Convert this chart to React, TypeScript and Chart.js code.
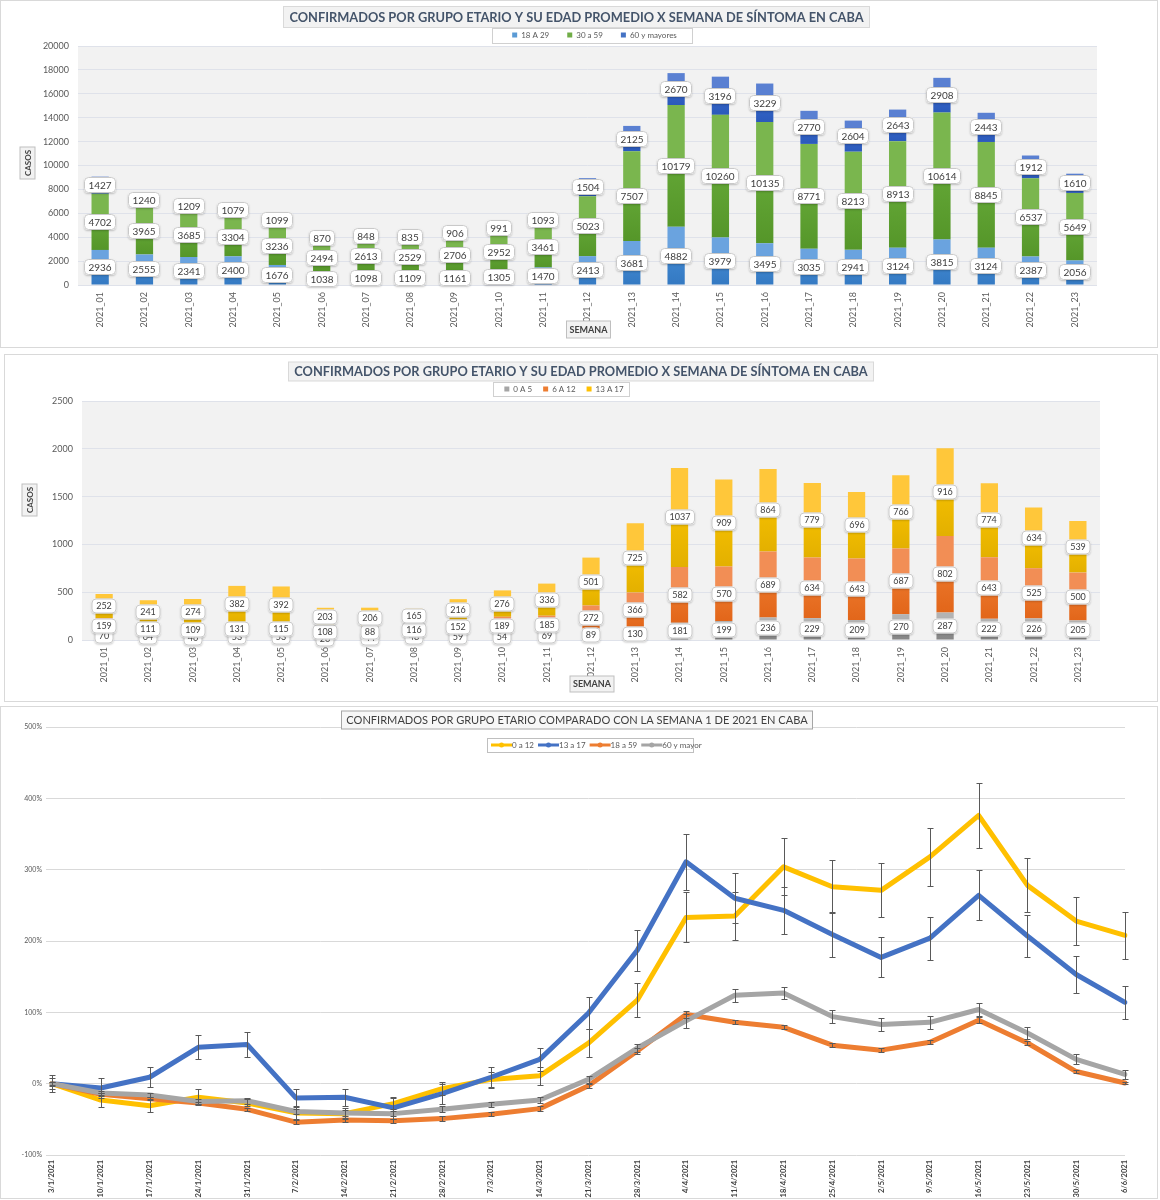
import React, { useEffect, useRef } from "react";
import { Chart, registerables } from "chart.js";

Chart.register(...registerables);

const FONT = "Lato, 'Open Sans', 'DejaVu Sans', sans-serif";

// ---------- DATA ----------
const semanas = [
  "2021_01", "2021_02", "2021_03", "2021_04", "2021_05", "2021_06", "2021_07", "2021_08",
  "2021_09", "2021_10", "2021_11", "2021_12", "2021_13", "2021_14", "2021_15", "2021_16",
  "2021_17", "2021_18", "2021_19", "2021_20", "2021_21", "2021_22", "2021_23",
];

const casos18a29 = [2936, 2555, 2341, 2400, 1676, 1038, 1098, 1109, 1161, 1305, 1470, 2413, 3681, 4882, 3979, 3495, 3035, 2941, 3124, 3815, 3124, 2387, 2056];
const casos30a59 = [4702, 3965, 3685, 3304, 3236, 2494, 2613, 2529, 2706, 2952, 3461, 5023, 7507, 10179, 10260, 10135, 8771, 8213, 8913, 10614, 8845, 6537, 5649];
const casos60mas = [1427, 1240, 1209, 1079, 1099, 870, 848, 835, 906, 991, 1093, 1504, 2125, 2670, 3196, 3229, 2770, 2604, 2643, 2908, 2443, 1912, 1610];

const casos0a5 = [70, 64, 46, 53, 53, 26, 44, 48, 59, 54, 69, 89, 130, 181, 199, 236, 229, 209, 270, 287, 222, 226, 205];
const casos6a12 = [159, 111, 109, 131, 115, 108, 88, 116, 152, 189, 185, 272, 366, 582, 570, 689, 634, 643, 687, 802, 643, 525, 500];
const casos13a17 = [252, 241, 274, 382, 392, 203, 206, 165, 216, 276, 336, 501, 725, 1037, 909, 864, 779, 696, 766, 916, 774, 634, 539];

const fechas = [
  "3/1/2021", "10/1/2021", "17/1/2021", "24/1/2021", "31/1/2021", "7/2/2021", "14/2/2021", "21/2/2021",
  "28/2/2021", "7/3/2021", "14/3/2021", "21/3/2021", "28/3/2021", "4/4/2021", "11/4/2021", "18/4/2021",
  "25/4/2021", "2/5/2021", "9/5/2021", "16/5/2021", "23/5/2021", "30/5/2021", "6/6/2021",
];
const pct0a12 = [0, -23, -31, -19, -27, -41, -42, -28, -7, 6, 11, 57, 117, 233, 235, 304, 276, 271, 318, 376, 278, 228, 208];
const pct13a17 = [0, -6, 9, 51, 55, -20, -19, -34, -14, 9, 34, 99, 187, 311, 260, 243, 209, 177, 204, 264, 207, 153, 114];
const pct18a59 = [0, -15, -21, -27, -36, -54, -51, -52, -49, -43, -35, -3, 46, 97, 86, 79, 54, 47, 58, 89, 57, 17, 1];
const pct60mas = [0, -13, -16, -25, -24, -39, -41, -42, -36, -29, -23, 6, 50, 88, 124, 127, 94, 83, 86, 104, 71, 34, 13];

const err0a12 = [8, 10, 9, 11, 5, 8, 8, 8, 9, 11, 13, 19, 24, 35, 34, 40, 37, 38, 41, 46, 38, 34, 33];
const err13a17 = [12, 14, 14, 17, 18, 12, 12, 15, 14, 15, 16, 22, 29, 39, 35, 33, 31, 28, 30, 35, 30, 26, 23];
const err18a59 = [2, 2, 2, 2, 2, 3, 3, 3, 3, 3, 3, 3, 4, 5, 3, 3, 3, 3, 3, 4, 3, 2, 2];
const err60mas = [3, 3, 3, 4, 4, 4, 4, 4, 4, 4, 4, 5, 6, 10, 9, 9, 9, 9, 9, 9, 9, 7, 6];

const tituloBarras = "CONFIRMADOS POR GRUPO ETARIO Y SU EDAD PROMEDIO X SEMANA DE SÍNTOMA EN CABA";
const tituloLineas = "CONFIRMADOS POR GRUPO ETARIO COMPARADO CON LA SEMANA 1 DE 2021 EN CABA";

// ---------- HELPERS ----------
type Boxed = {
  text: string; x: number; y: number; size: number; weight?: string; color: string;
  fill: string; stroke: string; padX?: number; boxH?: number; rotate?: boolean; fitWidth?: number;
};

function drawBoxed(ctx: CanvasRenderingContext2D, b: Boxed) {
  ctx.save();
  let size = b.size;
  ctx.font = `${b.weight || "normal"} ${size}px ${FONT}`;
  let tw = ctx.measureText(b.text).width;
  if (b.fitWidth) {
    size = (size * b.fitWidth) / tw;
    ctx.font = `${b.weight || "normal"} ${size}px ${FONT}`;
    tw = ctx.measureText(b.text).width;
  }
  const w = Math.round(tw + 2 * (b.padX ?? 4));
  const h = Math.round(b.boxH ?? size + 6);
  ctx.translate(b.x, b.y);
  if (b.rotate) ctx.rotate(-Math.PI / 2);
  ctx.fillStyle = b.fill;
  ctx.fillRect(-w / 2, -h / 2, w, h);
  ctx.strokeStyle = b.stroke;
  ctx.lineWidth = 1;
  ctx.strokeRect(-w / 2, -h / 2, w, h);
  ctx.fillStyle = b.color;
  ctx.textAlign = "center";
  ctx.textBaseline = "middle";
  ctx.fillText(b.text, 0, 0.5);
  ctx.restore();
}

function roundRect(ctx: CanvasRenderingContext2D, x: number, y: number, w: number, h: number, r: number) {
  ctx.beginPath();
  ctx.moveTo(x + r, y);
  ctx.lineTo(x + w - r, y);
  ctx.quadraticCurveTo(x + w, y, x + w, y + r);
  ctx.lineTo(x + w, y + h - r);
  ctx.quadraticCurveTo(x + w, y + h, x + w - r, y + h);
  ctx.lineTo(x + r, y + h);
  ctx.quadraticCurveTo(x, y + h, x, y + h - r);
  ctx.lineTo(x, y + r);
  ctx.quadraticCurveTo(x, y, x + r, y);
  ctx.closePath();
}

type DecorCfg = {
  plotBg?: string;
  boxes: Boxed[];
  legendShrink?: number;
  legendCx?: number;
  legendFrame?: { l: number; r: number; t: number; b: number };
  lineLegend?: { x: number; y: number; items: { text: string; color: string }[]; frame: [number, number, number, number] };
};

function makeDecor(cfg: DecorCfg) {
  return {
    id: "decor",
    beforeLayout(chart: any) {
      const lg = chart.legend;
      if (lg && cfg.legendShrink && !lg.__shrunk) {
        const orig = lg.fit;
        lg.fit = function () {
          orig.call(this);
          this.height = Math.max(0, this.height - (cfg.legendShrink as number));
        };
        lg.__shrunk = true;
      }
    },
    afterLayout(chart: any) {
      const lg = chart.legend;
      if (lg && cfg.legendCx !== undefined && lg.options.display) {
        const dx = cfg.legendCx - (lg.left + lg.right) / 2;
        lg.left += dx;
        lg.right += dx;
      }
    },
    beforeDraw(chart: any) {
      const { ctx, chartArea } = chart;
      if (cfg.plotBg && chartArea) {
        ctx.save();
        ctx.fillStyle = cfg.plotBg;
        ctx.fillRect(chartArea.left, chartArea.top, chartArea.right - chartArea.left, chartArea.bottom - chartArea.top);
        ctx.restore();
      }
      const lg = chart.legend;
      if (cfg.legendFrame && lg && lg.legendHitBoxes && lg.legendHitBoxes.length) {
        const hb = lg.legendHitBoxes;
        let l = Infinity, r = -Infinity, t = Infinity, b = -Infinity;
        hb.forEach((h: any) => {
          l = Math.min(l, h.left);
          r = Math.max(r, h.left + h.width);
          t = Math.min(t, h.top);
          b = Math.max(b, h.top + h.height);
        });
        const f = cfg.legendFrame;
        ctx.save();
        ctx.fillStyle = "#ffffff";
        ctx.strokeStyle = "#d0d0d0";
        ctx.lineWidth = 1;
        const x0 = Math.round(l - f.l) + 0.5, y0 = Math.round(t - f.t) + 0.5;
        const w = Math.round(r - l + f.l + f.r), h = Math.round(b - t + f.t + f.b);
        ctx.fillRect(x0, y0, w, h);
        ctx.strokeRect(x0, y0, w, h);
        ctx.restore();
      }
    },
    afterDraw(chart: any) {
      const ctx = chart.ctx as CanvasRenderingContext2D;
      cfg.boxes.forEach((b) => drawBoxed(ctx, b));
      const ll = cfg.lineLegend;
      if (ll) {
        ctx.save();
        const [fx, fy, fw, fh] = ll.frame;
        ctx.fillStyle = "#ffffff";
        ctx.fillRect(fx, fy, fw, fh);
        ctx.strokeStyle = "#bfbfbf";
        ctx.lineWidth = 1;
        ctx.strokeRect(fx + 0.5, fy + 0.5, fw, fh);
        ctx.font = `8px ${FONT}`;
        ctx.textBaseline = "middle";
        ctx.textAlign = "left";
        let x = ll.x;
        ll.items.forEach((it) => {
          ctx.strokeStyle = it.color;
          ctx.lineWidth = 3;
          ctx.beginPath();
          ctx.moveTo(x, ll.y);
          ctx.lineTo(x + 21, ll.y);
          ctx.stroke();
          ctx.fillStyle = it.color;
          ctx.beginPath();
          ctx.arc(x + 10.5, ll.y, 2.5, 0, Math.PI * 2);
          ctx.fill();
          ctx.fillStyle = "#595959";
          ctx.fillText(it.text, x + 21, ll.y + 0.5);
          x += 21 + ctx.measureText(it.text).width + 4;
        });
        ctx.restore();
      }
    },
  };
}

function makeBarLabels(fontSize: number, boxH: number) {
  return {
    id: "barLabels",
    afterDatasetsDraw(chart: any) {
      const ctx = chart.ctx as CanvasRenderingContext2D;
      ctx.save();
      ctx.font = `${fontSize}px ${FONT}`;
      ctx.textAlign = "center";
      ctx.textBaseline = "middle";
      chart.data.datasets.forEach((ds: any, di: number) => {
        const meta = chart.getDatasetMeta(di);
        meta.data.forEach((el: any, i: number) => {
          const txt = String(ds.data[i]);
          const w = Math.round(ctx.measureText(txt).width + 9);
          const cx = Math.round(el.x);
          const cy = Math.round((el.y + el.base) / 2);
          const x0 = cx - w / 2, y0 = cy - boxH / 2;
          ctx.save();
          ctx.shadowColor = "rgba(0,0,0,0.22)";
          ctx.shadowBlur = 2;
          ctx.shadowOffsetY = 1;
          roundRect(ctx, x0, y0, w, boxH, 4);
          ctx.fillStyle = "#ffffff";
          ctx.fill();
          ctx.restore();
          roundRect(ctx, x0 + 0.5, y0 + 0.5, w - 1, boxH - 1, 4);
          ctx.strokeStyle = "#c9c9c9";
          ctx.lineWidth = 1;
          ctx.stroke();
          ctx.fillStyle = "#404040";
          ctx.fillText(txt, cx, cy + 0.5);
        });
      });
      ctx.restore();
    },
  };
}

function makeErrorBars(errs: number[][]) {
  return {
    id: "errorBars",
    afterDatasetsDraw(chart: any) {
      const ctx = chart.ctx as CanvasRenderingContext2D;
      const y = chart.scales.y;
      ctx.save();
      ctx.strokeStyle = "#595959";
      ctx.lineWidth = 1;
      errs.forEach((e, di) => {
        const meta = chart.getDatasetMeta(di);
        const data = chart.data.datasets[di].data as number[];
        meta.data.forEach((pt: any, i: number) => {
          const v = data[i];
          const d = e[i];
          const x = Math.round(pt.x) + 0.5;
          const y1 = Math.round(y.getPixelForValue(v + d)) + 0.5;
          const y2 = Math.round(y.getPixelForValue(v - d)) + 0.5;
          ctx.beginPath();
          ctx.moveTo(x, y1);
          ctx.lineTo(x, y2);
          ctx.moveTo(x - 3, y1);
          ctx.lineTo(x + 3, y1);
          ctx.moveTo(x - 3, y2);
          ctx.lineTo(x + 3, y2);
          ctx.stroke();
        });
      });
      ctx.restore();
    },
  };
}

function stackGradient(series: number[][], idx: number, dark: string, mid: string, light: string) {
  return (c: any) => {
    const chart = c.chart;
    if (c.type !== "data" || !chart.chartArea || !chart.scales || !chart.scales.y) return light;
    const y = chart.scales.y;
    let start = 0;
    for (let k = 0; k < idx; k++) start += series[k][c.dataIndex];
    const end = start + series[idx][c.dataIndex];
    const p0 = y.getPixelForValue(start);
    const p1 = y.getPixelForValue(end);
    if (!isFinite(p0) || !isFinite(p1) || Math.abs(p0 - p1) < 1) return light;
    const g = chart.ctx.createLinearGradient(0, p0, 0, p1);
    g.addColorStop(0, dark);
    g.addColorStop(0.48, mid);
    g.addColorStop(0.52, light);
    g.addColorStop(1, light);
    return g;
  };
}

type SeriesSpec = { label: string; data: number[]; dark: string; mid: string; light: string; legend: string };

function barConfig(p: {
  series: SeriesSpec[]; max: number; step: number; pad: { top: number; left: number; right: number; bottom: number };
  legendPad: number; decor: DecorCfg; labelFont: number; labelBoxH: number; xHeight: number;
}) {
  const all = p.series.map((s) => s.data);
  return {
    type: "bar" as const,
    data: {
      labels: semanas,
      datasets: p.series.map((s, k) => ({
        label: s.label,
        data: s.data,
        backgroundColor: stackGradient(all, k, s.dark, s.mid, s.light),
        borderWidth: 0,
        barPercentage: 0.39,
        categoryPercentage: 1,
      })),
    },
    options: {
      animation: false as const,
      responsive: false,
      devicePixelRatio: 1,
      layout: { padding: p.pad },
      plugins: {
        title: { display: false },
        tooltip: { enabled: false },
        legend: {
          position: "top" as const,
          align: "center" as const,
          labels: {
            boxWidth: 5,
            boxHeight: 5,
            padding: p.legendPad,
            color: "#595959",
            font: { family: FONT, size: 8 },
            generateLabels: () =>
              p.series.map((s, i) => ({
                text: s.label, fillStyle: s.legend, strokeStyle: s.legend, lineWidth: 0,
                hidden: false, datasetIndex: i, fontColor: "#595959",
              })),
          },
        },
      },
      scales: {
        x: {
          stacked: true,
          grid: { display: false },
          border: { display: false },
          ticks: {
            autoSkip: false, maxRotation: 90, minRotation: 90, padding: -1,
            color: "#595959", font: { family: FONT, size: 9 },
          },
          afterFit: (s: any) => { s.height = p.xHeight; },
        },
        y: {
          stacked: true,
          min: 0,
          max: p.max,
          ticks: {
            stepSize: p.step, padding: 9, color: "#595959", font: { family: FONT, size: 9 },
            callback: (v: any) => String(v),
          },
          grid: { color: "#dfe2ea", drawTicks: false },
          border: { display: false },
          afterFit: (s: any) => { s.width = 40; },
        },
      },
    },
    plugins: [makeDecor(p.decor), makeBarLabels(p.labelFont, p.labelBoxH)],
  };
}

const titleStyle = { size: 15, weight: "bold", color: "#44546a", fill: "#f2f2f2", stroke: "#d9d9d9", padX: 6, boxH: 21 };
const axisBox = { fill: "#f2f2f2", stroke: "#bfbfbf", color: "#404040" };

function config1() {
  return barConfig({
    series: [
      { label: "18 A 29", data: casos18a29, dark: "#3479c2", mid: "#3f86cf", light: "#6aa3df", legend: "#5b9bd5" },
      { label: "30 a 59", data: casos30a59, dark: "#559629", mid: "#62a535", light: "#7ab64e", legend: "#70ad47" },
      { label: "60 y mayores", data: casos60mas, dark: "#2b5abb", mid: "#3565c8", light: "#5a80d2", legend: "#4472c4" },
    ],
    max: 20000,
    step: 2000,
    pad: { top: 12, left: 37, right: 60, bottom: 2 },
    xHeight: 60,
    legendPad: 18,
    labelFont: 10,
    labelBoxH: 16,
    decor: {
      plotBg: "#f2f2f2",
      legendShrink: 3,
      legendCx: 593.5,
      legendFrame: { l: 20, r: 15, t: 3, b: 4 },
      boxes: [
        { text: tituloBarras, x: 575.5, y: 16, fitWidth: 575, ...titleStyle },
        { text: "CASOS", x: 26.5, y: 162, size: 8, weight: "bold", rotate: true, padX: 3, boxH: 15, ...axisBox },
        { text: "SEMANA", x: 587.5, y: 328.5, size: 9, weight: "bold", padX: 3, boxH: 17, ...axisBox },
      ],
    },
  });
}

function config2() {
  return barConfig({
    series: [
      { label: "0 A 5", data: casos0a5, dark: "#868686", mid: "#939393", light: "#b3b3b3", legend: "#a5a5a5" },
      { label: "6 A 12", data: casos6a12, dark: "#e2661a", mid: "#ea7428", light: "#f28e55", legend: "#ed7d31" },
      { label: "13 A 17", data: casos13a17, dark: "#e3b000", mid: "#f2bd00", light: "#ffc73a", legend: "#ffc000" },
    ],
    max: 2500,
    step: 500,
    pad: { top: 19, left: 37, right: 57, bottom: 1 },
    xHeight: 60,
    legendPad: 11,
    labelFont: 9,
    labelBoxH: 15,
    decor: {
      plotBg: "#f2f2f2",
      legendShrink: 2,
      legendCx: 559,
      legendFrame: { l: 11, r: 6, t: 3, b: 3 },
      boxes: [
        { text: tituloBarras, x: 576, y: 16.5, fitWidth: 574, ...titleStyle, boxH: 19 },
        { text: "CASOS", x: 24.5, y: 145, size: 8, weight: "bold", rotate: true, padX: 3, boxH: 15, ...axisBox },
        { text: "SEMANA", x: 587, y: 329, size: 9, weight: "bold", padX: 3, boxH: 16, ...axisBox },
      ],
    },
  });
}

function config3() {
  const mk = (label: string, data: number[], color: string, order: number) => ({
    label, data, borderColor: color, backgroundColor: color, borderWidth: 5, pointRadius: 0,
    tension: 0, order, borderJoinStyle: "round" as const, borderCapStyle: "round" as const, fill: false,
  });
  return {
    type: "line" as const,
    data: {
      labels: fechas,
      datasets: [
        mk("0 a 12", pct0a12, "#ffc000", 3),
        mk("13 a 17", pct13a17, "#4472c4", 2),
        mk("18 a 59", pct18a59, "#ed7d31", 1),
        mk("60 y mayor", pct60mas, "#a5a5a5", 0),
      ],
    },
    options: {
      animation: false as const,
      responsive: false,
      devicePixelRatio: 1,
      layout: { padding: { top: 20, left: 7, right: 32, bottom: 0 } },
      plugins: { legend: { display: false }, title: { display: false }, tooltip: { enabled: false } },
      scales: {
        x: {
          offset: false,
          grid: { display: false },
          border: { display: false },
          ticks: {
            autoSkip: false, maxRotation: 90, minRotation: 90, padding: -3,
            color: "#404040", font: { family: FONT, size: 7.5, weight: "bold" as const },
          },
          afterFit: (s: any) => { s.height = 43; },
        },
        y: {
          min: -100,
          max: 500,
          ticks: {
            stepSize: 100, padding: 4, color: "#595959", font: { family: FONT, size: 7 },
            callback: (v: any) => `${v}%`,
          },
          grid: { color: "#d9d9d9", drawTicks: true, tickLength: 6 },
          border: { display: false },
          afterFit: (s: any) => { s.width = 44; },
        },
      },
    },
    plugins: [
      makeErrorBars([err0a12, err13a17, err18a59, err60mas]),
      makeDecor({
        boxes: [
          { text: tituloLineas, x: 576, y: 13, size: 13, fitWidth: 462, color: "#404040", fill: "#f7f7f7", stroke: "#a6a6a6", padX: 5, boxH: 18 },
        ],
        lineLegend: {
          x: 490,
          y: 38,
          frame: [486, 31, 206, 14],
          items: [
            { text: "0 a 12", color: "#ffc000" },
            { text: "13 a 17", color: "#4472c4" },
            { text: "18 a 59", color: "#ed7d31" },
            { text: "60 y mayor", color: "#a5a5a5" },
          ],
        },
      }),
    ],
  };
}

function Panel(props: { left: number; top: number; width: number; height: number; make: () => any }) {
  const ref = useRef<HTMLCanvasElement>(null);
  const { left, top, width, height, make } = props;
  useEffect(() => {
    if (!ref.current) return;
    const chart = new Chart(ref.current, make());
    return () => chart.destroy();
  }, []);
  return (
    <div
      style={{
        position: "absolute", left, top, width, height, boxSizing: "border-box",
        border: "1px solid #d9d9d9", background: "#ffffff",
      }}
    >
      <canvas ref={ref} width={width - 2} height={height - 2} style={{ display: "block", width: width - 2, height: height - 2 }} />
    </div>
  );
}

export default function App() {
  useEffect(() => {
    document.body.style.margin = "0";
    document.body.style.background = "#ffffff";
  }, []);
  return (
    <div style={{ position: "relative", width: 1160, height: 1200 }}>
      <Panel left={0} top={0} width={1158} height={348} make={config1} />
      <Panel left={4} top={354} width={1154} height={348} make={config2} />
      <Panel left={0} top={706} width={1158} height={493} make={config3} />
    </div>
  );
}
